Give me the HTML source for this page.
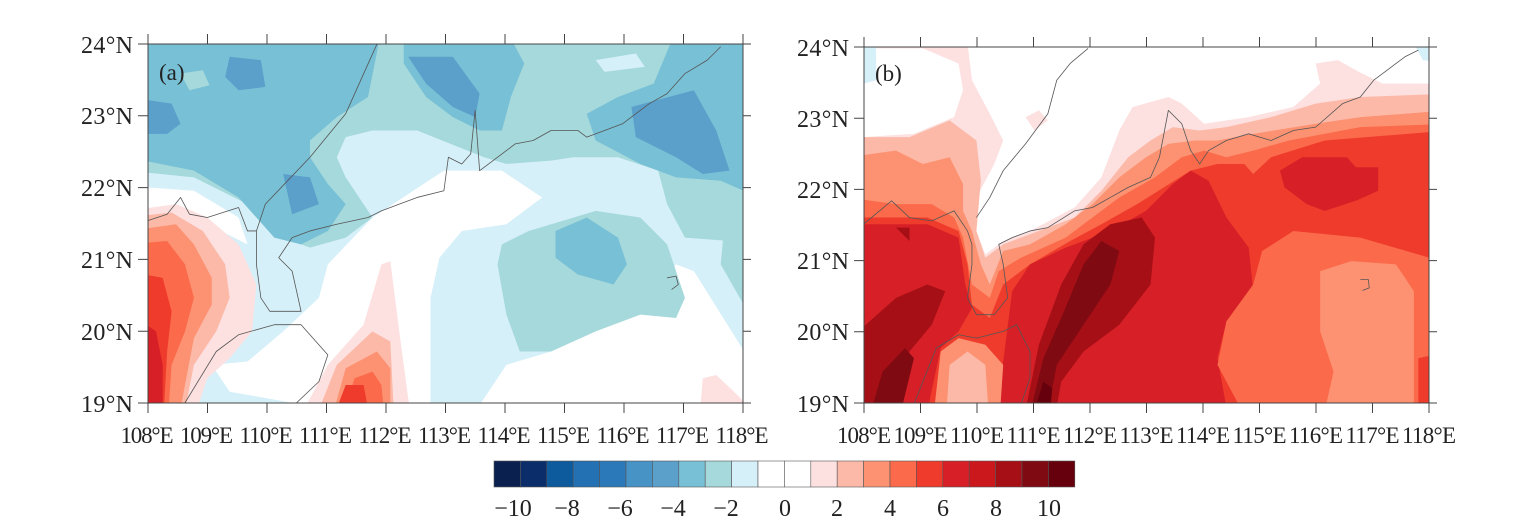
<!DOCTYPE html>
<html><head><meta charset="utf-8"><style>
html,body{margin:0;padding:0;background:#fff;}
svg{display:block;}
text{font-family:"Liberation Serif",serif;fill:#222;}
</style></head><body>
<svg width="1520" height="531" viewBox="0 0 1520 531" xmlns="http://www.w3.org/2000/svg">
<defs>
<clipPath id="ca"><rect x="148" y="44" width="595" height="359"/></clipPath>
<clipPath id="cb"><rect x="864" y="47" width="565" height="356"/></clipPath>
</defs>

<!-- Panel a -->
<g clip-path="url(#ca)">
<g transform="translate(60,30) scale(0.4464,0.3349)" stroke-linejoin="round">
<rect x="150" y="0" width="1450" height="1200" fill="#d6f0f9"/>
<polygon fill="#ffffff" points="600,700 700,560 860,420 990,420 1080,500 1000,580 900,600 850,680 830,800 830,1113 520,1113 380,1080 340,1000 420,990 500,900 580,800"/>
<polygon fill="#ffffff" points="195,470 300,480 400,560 420,640 300,560 195,540"/>
<polygon fill="#ffffff" points="940,1120 1000,1000 1100,960 1200,900 1300,820 1380,700 1420,720 1528,950 1540,1120"/>
<polygon fill="#a6d9dc" points="150,0 1600,0 1600,640 1400,620 1360,520 1340,420 1250,380 1150,380 1100,390 1000,400 950,380 800,300 700,300 640,320 620,380 640,440 700,560 640,620 560,650 500,620 420,520 300,440 150,420"/>
<polygon fill="#a6d9dc" points="990,640 1050,600 1200,540 1300,560 1360,640 1400,800 1380,860 1300,850 1200,900 1100,960 1030,960 1000,850 980,700"/>
<polygon fill="#a6d9dc" points="1600,480 1490,560 1480,700 1600,980"/>
<polygon fill="#d6f0f9" points="1200,90 1290,70 1310,110 1220,125"/>
<polygon fill="#78c0d5" points="150,0 720,0 690,200 620,260 560,330 560,380 600,460 640,520 600,600 540,640 480,620 440,560 400,500 300,420 150,380"/>
<polygon fill="#a6d9dc" points="270,130 320,120 335,165 290,180"/>
<polygon fill="#78c0d5" points="770,0 1000,0 1040,100 1010,200 990,300 940,300 880,260 820,200 770,100"/>
<polygon fill="#78c0d5" points="1380,0 1600,0 1600,520 1480,450 1380,440 1300,400 1200,330 1180,250 1250,200 1330,160"/>
<polygon fill="#78c0d5" points="1110,600 1180,560 1250,620 1270,700 1240,760 1160,730 1110,680"/>
<polygon fill="#5b9fcb" points="150,200 250,220 270,280 240,310 150,310"/>
<polygon fill="#5b9fcb" points="380,80 450,90 460,170 400,180 370,140"/>
<polygon fill="#5b9fcb" points="500,430 560,440 580,520 520,550"/>
<polygon fill="#5b9fcb" points="780,80 880,80 940,190 930,260 880,230 820,160"/>
<polygon fill="#5b9fcb" points="1280,230 1420,180 1470,300 1500,420 1440,430 1380,380 1290,320"/>
<polygon fill="#fde0e0" points="150,540 260,520 330,560 400,640 440,760 430,900 380,980 330,1040 290,1200 150,1200"/>
<polygon fill="#fcb9a8" points="150,560 250,545 320,600 370,700 380,800 350,900 300,1000 270,1200 150,1200"/>
<polygon fill="#fc9272" points="150,600 260,580 300,640 340,740 340,820 300,920 260,1200 150,1200"/>
<polygon fill="#fb6a4a" points="150,640 240,630 280,700 300,800 280,900 250,1000 240,1200 150,1200"/>
<polygon fill="#ef3b2c" points="150,720 230,740 250,840 240,960 230,1200 150,1200"/>
<polygon fill="#d61f26" points="150,840 215,900 230,1000 230,1200 150,1200"/>
<polygon fill="#fde0e0" points="520,1200 600,1000 680,880 720,700 740,690 760,900 790,1200"/>
<polygon fill="#fcb9a8" points="560,1200 620,1000 700,900 740,930 750,1200"/>
<polygon fill="#fc9272" points="600,1200 640,1010 710,960 740,1010 740,1200"/>
<polygon fill="#fb6a4a" points="620,1200 660,1040 700,1020 720,1060 730,1200"/>
<polygon fill="#ef3b2c" points="600,1200 640,1060 680,1060 700,1200"/>
<polygon fill="#fde0e0" points="1430,1200 1440,1040 1470,1030 1510,1080 1540,1120 1540,1200"/>
<g fill="none" stroke="#555" stroke-width="0.8">
<polyline vector-effect="non-scaling-stroke" points="195,570 240,550 270,500 290,550 330,560 400,530 420,600 440,600 440,700 450,800 470,840 540,840 530,780 520,720 490,680 520,620 560,600 620,580 690,560 720,540 760,520 800,500 860,480 870,380 900,400 920,370 930,240 940,420 990,370 1020,340 1060,330 1100,300 1160,300 1180,320 1220,300 1260,280 1320,220 1360,190 1400,130 1450,90 1480,50"/>
<polyline vector-effect="non-scaling-stroke" points="710,42 640,250 560,380 510,450 460,520 440,600"/>
<polyline vector-effect="non-scaling-stroke" points="280,1113 350,960 400,910 480,880 540,880 600,970 580,1050 530,1113"/>
<polyline vector-effect="non-scaling-stroke" points="1360,740 1380,735 1385,760 1370,775"/>
</g>
</g>
</g>
<rect x="148" y="44" width="595" height="359" fill="none" stroke="#444" stroke-width="1"/>

<!-- Panel b -->
<g clip-path="url(#cb)">
<g transform="translate(780,30) scale(0.4464,0.3349)" stroke-linejoin="round">
<rect x="150" y="0" width="1400" height="1200" fill="#fde0e0"/>
<polygon fill="#ffffff" points="215,55 320,55 400,100 410,180 390,260 300,310 187,320 187,160 215,150"/>
<polygon fill="#d6f0f9" points="150,40 215,40 215,150 187,160 150,160"/>
<polygon fill="#ffffff" points="420,40 1500,40 1500,160 1350,160 1290,120 1250,90 1200,100 1210,160 1150,230 1050,260 950,280 900,220 870,200 790,230 760,300 720,440 660,530 560,600 500,630 460,670 440,600 440,500 480,400 500,330 470,250 430,150"/>
<polygon fill="#d6f0f9" points="1420,40 1500,40 1500,100 1440,90"/>
<polygon fill="#fde0e0" points="550,260 580,240 600,270 570,300"/>
<polygon fill="#fcb9a8" points="150,320 290,320 380,270 440,330 450,450 440,600 460,680 500,640 560,610 660,560 720,480 780,380 830,330 880,290 940,300 1000,290 1100,260 1200,220 1300,200 1500,190 1500,1200 150,1200"/>
<polygon fill="#fc9272" points="150,380 260,360 320,400 380,380 410,460 410,540 430,600 450,700 470,760 500,660 560,640 640,580 700,520 760,440 820,380 870,340 930,330 980,330 1060,310 1200,280 1300,260 1500,240 1500,1200 150,1200"/>
<polygon fill="#fb6a4a" points="150,500 260,520 340,520 390,560 410,620 430,760 470,800 490,720 540,680 640,620 700,560 760,500 840,440 900,380 950,360 1000,380 1060,360 1140,330 1300,290 1500,280 1500,1200 150,1200"/>
<polygon fill="#ef3b2c" points="150,560 330,560 400,600 420,700 430,820 470,860 500,760 560,700 650,630 720,580 800,520 860,470 920,420 980,400 1040,400 1060,430 1100,380 1220,330 1500,300 1500,1200 150,1200"/>
<polygon fill="#d61f26" points="150,580 330,580 400,620 415,760 430,830 400,900 360,950 320,1200 150,1200"/>
<polygon fill="#d61f26" points="480,1200 520,780 560,700 640,650 740,600 820,540 880,460 920,420 960,450 1000,560 1050,650 1060,780 1000,870 980,980 1010,1200"/>
<polygon fill="#fb6a4a" points="1060,1200 980,1000 1000,870 1060,760 1080,660 1150,600 1300,620 1455,680 1455,1200"/>
<polygon fill="#fc9272" points="1210,1200 1240,1020 1210,900 1210,720 1280,690 1380,700 1420,780 1420,1200"/>
<polygon fill="#ef3b2c" points="1430,980 1500,960 1500,1200 1430,1200"/>
<polygon fill="#d61f26" points="1120,420 1170,380 1270,380 1290,410 1340,410 1340,480 1290,510 1220,540 1180,520 1130,470"/>
<polygon fill="#fc9272" points="340,1200 360,960 400,920 460,940 500,1000 490,1200"/>
<polygon fill="#fcb9a8" points="370,1200 380,1000 420,960 460,1000 470,1200"/>
<polygon fill="#a50f15" points="150,930 260,800 330,760 370,780 340,880 290,960 260,1200 150,1200"/>
<polygon fill="#a50f15" points="260,590 290,590 290,630"/>
<polygon fill="#a50f15" points="540,1200 580,940 630,760 680,640 740,580 810,560 840,620 830,760 760,880 680,960 630,1050 610,1200"/>
<polygon fill="#7f0a12" points="550,1200 590,980 630,860 680,700 720,630 760,660 740,760 680,880 620,1000 590,1200"/>
<polygon fill="#7f0a12" points="190,1200 230,1020 280,950 300,980 260,1200"/>
<polygon fill="#67000d" points="555,1200 590,1050 610,1070 600,1200"/>
<g fill="none" stroke="#555" stroke-width="0.8">
<polyline vector-effect="non-scaling-stroke" points="187,580 250,510 290,560 340,570 390,540 420,600 430,640 430,700 420,800 440,850 480,850 510,800 500,700 490,640 520,620 560,600 600,590 660,540 700,530 740,500 780,470 830,440 850,380 870,240 900,280 920,360 940,400 960,360 1000,330 1050,310 1100,330 1150,300 1200,290 1260,220 1300,200 1330,150 1360,120 1400,80 1430,60"/>
<polyline vector-effect="non-scaling-stroke" points="690,55 650,100 620,150 600,250 550,340 500,420 470,500 440,560"/>
<polyline vector-effect="non-scaling-stroke" points="300,1117 350,950 400,910 440,920 500,900 530,880 560,960 560,1040 540,1117"/>
<polyline vector-effect="non-scaling-stroke" points="1300,745 1318,745 1320,770 1305,778"/>
</g>
</g>
</g>
<rect x="864" y="47" width="565" height="356" fill="none" stroke="#444" stroke-width="1"/>

<g stroke="#444" stroke-width="1">
<path d="M148,403v10M207.5,403v10M267,403v10M326.5,403v10M386,403v10M445.5,403v10M505,403v10M564.5,403v10M624,403v10M683.5,403v10M743,403v10
M148,44v-10M207.5,44v-10M267,44v-10M326.5,44v-10M386,44v-10M445.5,44v-10M505,44v-10M564.5,44v-10M624,44v-10M683.5,44v-10M743,44v-10
M148,44h-10M148,115.8h-10M148,187.6h-10M148,259.4h-10M148,331.2h-10M148,403h-10
M743,44h8M743,115.8h8M743,187.6h8M743,259.4h8M743,331.2h8M743,403h8"/>
<path d="M864,403v10M920.5,403v10M977,403v10M1033.5,403v10M1090,403v10M1146.5,403v10M1203,403v10M1259.5,403v10M1316,403v10M1372.5,403v10M1429,403v10
M864,47v-10M920.5,47v-10M977,47v-10M1033.5,47v-10M1090,47v-10M1146.5,47v-10M1203,47v-10M1259.5,47v-10M1316,47v-10M1372.5,47v-10M1429,47v-10
M864,47h-10M864,118.2h-10M864,189.4h-10M864,260.6h-10M864,331.8h-10M864,403h-10
M1429,47h8M1429,118.2h8M1429,189.4h8M1429,260.6h8M1429,331.8h8M1429,403h8"/>
</g>
<g font-size="24" text-anchor="end">
<text x="133" y="53" textLength="52">24°N</text><text x="133" y="124" textLength="52">23°N</text><text x="133" y="196" textLength="52">22°N</text><text x="133" y="268" textLength="52">21°N</text><text x="133" y="340" textLength="52">20°N</text><text x="133" y="412" textLength="52">19°N</text>
<text x="849" y="56" textLength="52">24°N</text><text x="849" y="127" textLength="52">23°N</text><text x="849" y="198" textLength="52">22°N</text><text x="849" y="269" textLength="52">21°N</text><text x="849" y="340" textLength="52">20°N</text><text x="849" y="412" textLength="52">19°N</text>
</g>
<g font-size="23" text-anchor="middle">
<text x="147" y="443" textLength="53">108°E</text><text x="206.5" y="443" textLength="53">109°E</text><text x="266" y="443" textLength="53">110°E</text><text x="325.5" y="443" textLength="53">111°E</text><text x="385" y="443" textLength="53">112°E</text><text x="444.5" y="443" textLength="53">113°E</text><text x="504" y="443" textLength="53">114°E</text><text x="563.5" y="443" textLength="53">115°E</text><text x="623" y="443" textLength="53">116°E</text><text x="682.5" y="443" textLength="53">117°E</text><text x="742" y="443" textLength="53">118°E</text>
<text x="864" y="443" textLength="54">108°E</text><text x="920.5" y="443" textLength="54">109°E</text><text x="977" y="443" textLength="54">110°E</text><text x="1033.5" y="443" textLength="54">111°E</text><text x="1090" y="443" textLength="54">112°E</text><text x="1146.5" y="443" textLength="54">113°E</text><text x="1203" y="443" textLength="54">114°E</text><text x="1259.5" y="443" textLength="54">115°E</text><text x="1316" y="443" textLength="54">116°E</text><text x="1372.5" y="443" textLength="54">117°E</text><text x="1429" y="443" textLength="54">118°E</text>
</g>
<text x="159" y="80" font-size="23">(a)</text>
<text x="875" y="81" font-size="23">(b)</text>

<g stroke="#555" stroke-width="0.6">
<rect x="494" y="461" width="26.4" height="26" fill="#0a2150"/>
<rect x="520.4" y="461" width="26.4" height="26" fill="#0b2e6b"/>
<rect x="546.8" y="461" width="26.4" height="26" fill="#0d5a9c"/>
<rect x="573.2" y="461" width="26.4" height="26" fill="#2371b2"/>
<rect x="599.6" y="461" width="26.4" height="26" fill="#2c79b9"/>
<rect x="626" y="461" width="26.4" height="26" fill="#4793c6"/>
<rect x="652.4" y="461" width="26.4" height="26" fill="#5b9fcb"/>
<rect x="678.8" y="461" width="26.4" height="26" fill="#78c0d5"/>
<rect x="705.2" y="461" width="26.4" height="26" fill="#a6d9dc"/>
<rect x="731.6" y="461" width="26.4" height="26" fill="#d6f0f9"/>
<rect x="758" y="461" width="26.4" height="26" fill="#ffffff"/>
<rect x="784.4" y="461" width="26.4" height="26" fill="#ffffff"/>
<rect x="810.8" y="461" width="26.4" height="26" fill="#fde0e0"/>
<rect x="837.2" y="461" width="26.4" height="26" fill="#fcb9a8"/>
<rect x="863.6" y="461" width="26.4" height="26" fill="#fc9272"/>
<rect x="890" y="461" width="26.4" height="26" fill="#fb6a4a"/>
<rect x="916.4" y="461" width="26.4" height="26" fill="#ef3b2c"/>
<rect x="942.8" y="461" width="26.4" height="26" fill="#d61f26"/>
<rect x="969.2" y="461" width="26.4" height="26" fill="#cb181d"/>
<rect x="995.6" y="461" width="26.4" height="26" fill="#a50f15"/>
<rect x="1022" y="461" width="26.4" height="26" fill="#7f0a12"/>
<rect x="1048.4" y="461" width="26.4" height="26" fill="#67000d"/>
</g>
<g font-size="24" text-anchor="middle">
<text x="513" y="516">−10</text><text x="567" y="516">−8</text><text x="620" y="516">−6</text><text x="673" y="516">−4</text><text x="726" y="516">−2</text><text x="785" y="516">0</text><text x="837" y="516">2</text><text x="890" y="516">4</text><text x="943" y="516">6</text><text x="996" y="516">8</text><text x="1049" y="516">10</text>
</g>
</svg>
</body></html>
